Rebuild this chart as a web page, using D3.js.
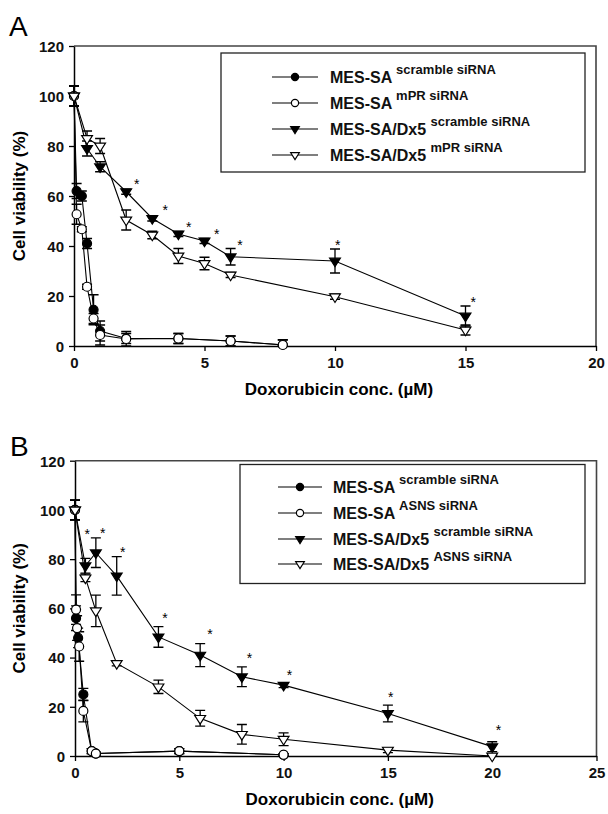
<!DOCTYPE html>
<html><head><meta charset="utf-8">
<script src="https://cdn.jsdelivr.net/npm/d3@7"></script>
<style>body{margin:0;background:#fff;} svg{display:block;font-family:"Liberation Sans",Arial,Helvetica,sans-serif;}</style>
</head><body><svg id="c" width="608" height="814"></svg>
<script>
// ---------- Panel A data ----------
const concA_mes = [0, 0.1, 0.3, 0.5, 0.75, 1, 2, 4, 6, 8];
const A_mesScr = [100, 62, 60, 41, 14.5, 6, 3, 3, 2, 0.5];
const A_mesScrErr = [4, 3, 2, 2, 6, 4, 2, 2, 2, 2];
const A_mesMpr = [100, 52.7, 46.7, 23.7, 11, 4.4, 2.8, 3, 2, 0.4];
const A_mesMprErr = [4, 4, 1, 1, 2, 4, 3, 2, 2, 2];
const concA_dx5 = [0, 0.5, 1, 2, 3, 4, 5, 6, 10, 15];
const A_dxScr = [100, 79, 71.7, 61.7, 51, 44.8, 42, 35.7, 34, 12];
const A_dxScrErr = [4, 3, 2, 1, 1, 1, 1, 3.3, 4.8, 4];
const A_dxMpr = [100, 83, 80, 50.4, 44.4, 36, 33, 28.4, 19.7, 6.4];
const A_dxMprErr = [4, 3, 3, 4, 1.5, 3, 2.5, 1, 1, 2];
const A_starX = [2.4, 3.5, 4.4, 5.47, 6.36, 10.1, 15.3];
const A_starY = [66, 55.5, 48.8, 46, 41.5, 41.5, 18.7];
const A_xTicks = [0, 5, 10, 15, 20];
const A_legend = ["scramble siRNA", "mPR siRNA", "scramble siRNA", "mPR siRNA"];

// ---------- Panel B data ----------
const concB_mesScr = [0, 0.05, 0.15, 0.4, 0.8, 1, 5, 10];
const B_mesScr = [100, 56, 48, 25, 2, 1, 2, 0.5];
const B_mesScrErr = [4, 5, 4, 2.5, 1, 0.5, 1, 0.5];
const concB_mesAsns = [0, 0.05, 0.1, 0.2, 0.4, 0.8, 1, 5, 10];
const B_mesAsns = [100, 59.5, 52, 44.5, 18.3, 2, 1, 2, 0.5];
const B_mesAsnsErr = [4, 6, 5, 6, 4.4, 1, 0.5, 1, 0.5];
const concB_dx5 = [0, 0.5, 1, 2, 4, 6, 8, 10, 15, 20];
const B_dxScr = [100, 77.3, 82.6, 73.2, 48.4, 41, 32.2, 28.8, 17.3, 3.8];
const B_dxScrErr = [4, 3, 6, 7.8, 4.2, 4.7, 4, 1, 3.4, 2];
const B_dxAsns = [100, 72.4, 59, 37.6, 28.1, 15.3, 8.8, 6.8, 2.4, 0];
const B_dxAsnsErr = [4, 1.5, 6.4, 1, 2.7, 3.2, 4, 2.6, 1, 0.5];
const B_starX = [0.59, 1.33, 2.29, 4.31, 6.47, 8.36, 10.28, 15.14, 20.3];
const B_starY = [91.5, 91.8, 84, 57.3, 50.8, 41, 34.2, 25.2, 11.7];
const B_xTicks = [0, 5, 10, 15, 20, 25];
const B_legend = ["scramble siRNA", "ASNS siRNA", "scramble siRNA", "ASNS siRNA"];

const yTicks = [0, 20, 40, 60, 80, 100, 120];
const legendMain = ["MES-SA", "MES-SA", "MES-SA/Dx5", "MES-SA/Dx5"];
const markerKinds = ["fcircle", "ocircle", "ftri", "otri"];
const yTitle = "Cell viability (%)";
const xTitle = "Doxorubicin conc. (\u00B5M)";

const svg = d3.select("#c");

function marker(g, kind, cx, cy, s) {
  if (kind.endsWith("circle")) {
    g.append("circle").attr("cx", cx).attr("cy", cy).attr("r", s)
      .attr("fill", kind[0] === "f" ? "#000" : "#fff").attr("stroke", "#000").attr("stroke-width", 1.2);
  } else {
    const h = s * 1.9, w = s * 1.2;
    g.append("path").attr("d", `M${cx - w},${cy - h / 3}L${cx + w},${cy - h / 3}L${cx},${cy + 2 * h / 3}Z`)
      .attr("fill", kind[0] === "f" ? "#000" : "#fff").attr("stroke", "#000").attr("stroke-width", 1.2);
  }
}

function panel(cfg) {
  const x = d3.scaleLinear().domain([0, cfg.xmax]).range([cfg.x0, cfg.x1]);
  const y = d3.scaleLinear().domain([0, 120]).range([cfg.y0, cfg.y1]);
  const g = svg.append("g");

  // title letter
  g.append("text").attr("x", cfg.tx).attr("y", cfg.ty).attr("font-size", 28).text(cfg.title);

  // frame
  g.append("path").attr("d", `M${cfg.x0},${cfg.y1}H${cfg.x1}V${cfg.y0}`)
    .attr("fill", "none").attr("stroke", "#444").attr("stroke-width", 1.6);

  const xa = g.append("g").attr("transform", `translate(0,${cfg.y0})`)
    .call(d3.axisBottom(x).tickValues(cfg.xTicks).tickSize(5).tickSizeOuter(0));
  const ya = g.append("g").attr("transform", `translate(${cfg.x0},0)`)
    .call(d3.axisLeft(y).tickValues(yTicks).tickSize(5).tickSizeOuter(0));
  [xa, ya].forEach(a => {
    a.select(".domain").attr("stroke", "#000").attr("stroke-width", 1.5);
    a.selectAll(".tick line").attr("stroke", "#000").attr("stroke-width", 1.3);
    a.selectAll("text").attr("font-size", 15).attr("font-weight", "bold").attr("fill", "#111")
      .attr("font-family", "Liberation Sans, Arial, sans-serif");
  });
  xa.selectAll("text").attr("dy", null).attr("y", 22);
  ya.selectAll("text").attr("x", -10).attr("dy", "0.36em");

  // axis titles
  g.append("text").attr("x", (cfg.x0 + cfg.x1) / 2 + 4).attr("y", cfg.xlabY)
    .attr("text-anchor", "middle").attr("font-size", 17).attr("font-weight", "bold").text(xTitle);
  g.append("text").attr("transform", `translate(${cfg.ylabX},${(cfg.y0 + cfg.y1) / 2}) rotate(-90)`)
    .attr("text-anchor", "middle").attr("font-size", 17).attr("font-weight", "bold").text(yTitle);

  // series
  cfg.series.forEach((s, i) => {
    const pts = s.xs.map((cx, j) => ({ x: cx, y: s.ys[j], e: s.es[j] }));
    const sg = g.append("g");
    sg.append("path").datum(pts)
      .attr("d", d3.line().x(d => x(d.x)).y(d => y(d.y)))
      .attr("fill", "none").attr("stroke", "#000").attr("stroke-width", 1.1);
    pts.forEach(d => {
      const px = x(d.x), top = y(d.y + d.e), bot = y(Math.max(0, d.y - d.e));
      sg.append("path").attr("d", `M${px},${top}V${bot}M${px - 5},${top}H${px + 5}M${px - 5},${bot}H${px + 5}`)
        .attr("stroke", "#000").attr("stroke-width", 1.3).attr("fill", "none");
    });
    pts.forEach(d => marker(sg, markerKinds[i], x(d.x), y(d.y), 4.5));
  });

  // significance asterisks
  cfg.starX.forEach((sx, i) => {
    g.append("text").attr("x", x(sx)).attr("y", y(cfg.starY[i]) + 8)
      .attr("text-anchor", "middle").attr("font-size", 14).text("*");
  });

  // legend
  const L = cfg.legend;
  g.append("rect").attr("x", L.x).attr("y", L.y).attr("width", L.w).attr("height", L.h)
    .attr("fill", "#fff").attr("stroke", "#222").attr("stroke-width", 1.3);
  cfg.legendSup.forEach((sup, i) => {
    const ry = L.rows[i];
    g.append("line").attr("x1", L.lx0).attr("x2", L.lx1).attr("y1", ry).attr("y2", ry)
      .attr("stroke", "#000").attr("stroke-width", 1.1);
    marker(g, markerKinds[i], (L.lx0 + L.lx1) / 2, ry, 3.6);
    const t = g.append("text").attr("x", L.tx).attr("y", ry + 6).attr("font-size", 16)
      .attr("font-weight", "bold").attr("fill", "#111");
    t.append("tspan").text(legendMain[i] + " ");
    t.append("tspan").attr("font-size", 13).attr("dy", -9).text(sup);
  });
}

panel({
  title: "A", tx: 9, ty: 36,
  x0: 74, x1: 596, y0: 346, y1: 46, xmax: 20, xTicks: A_xTicks,
  xlabY: 395, ylabX: 25,
  series: [
    { xs: concA_mes, ys: A_mesScr, es: A_mesScrErr },
    { xs: concA_mes, ys: A_mesMpr, es: A_mesMprErr },
    { xs: concA_dx5, ys: A_dxScr, es: A_dxScrErr },
    { xs: concA_dx5, ys: A_dxMpr, es: A_dxMprErr }
  ],
  starX: A_starX, starY: A_starY,
  legend: { x: 221, y: 53, w: 364, h: 119, rows: [77, 103, 129, 155], lx0: 272, lx1: 318, tx: 330 },
  legendSup: A_legend
});

panel({
  title: "B", tx: 10, ty: 456,
  x0: 75, x1: 596.5, y0: 756, y1: 460.7, xmax: 25, xTicks: B_xTicks,
  xlabY: 805, ylabX: 25,
  series: [
    { xs: concB_mesScr, ys: B_mesScr, es: B_mesScrErr },
    { xs: concB_mesAsns, ys: B_mesAsns, es: B_mesAsnsErr },
    { xs: concB_dx5, ys: B_dxScr, es: B_dxScrErr },
    { xs: concB_dx5, ys: B_dxAsns, es: B_dxAsnsErr }
  ],
  starX: B_starX, starY: B_starY,
  legend: { x: 240, y: 464.5, w: 345, h: 119, rows: [487, 513, 539, 564], lx0: 278, lx1: 322, tx: 333 },
  legendSup: B_legend
});
</script></body></html>
